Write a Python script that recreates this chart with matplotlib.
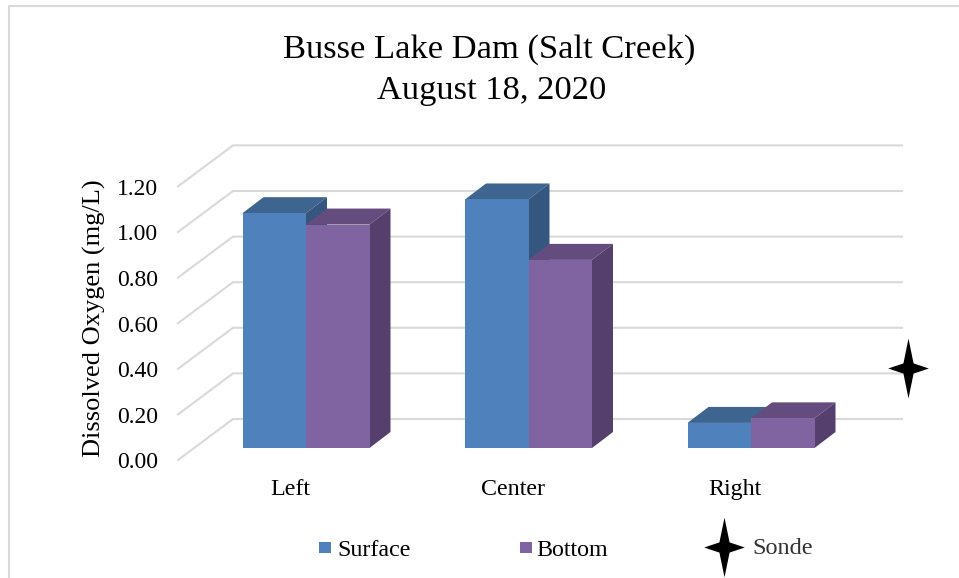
"""
Busse Lake Dam dissolved oxygen, fake 3D bars
"""
import numpy as np
import matplotlib.pyplot as plt
from matplotlib.path import Path

plt.rcParams['font.family'] = ['Liberation Serif', 'DejaVu Serif']

# data
sites = ['Left', 'Center', 'Right']
surface = [1.03, 1.09, 0.11]
bottom = [0.98, 0.825, 0.13]
yticks = [0.0, 0.2, 0.4, 0.6, 0.8, 1.0, 1.2]
title_lines = ['Busse Lake Dam (Salt Creek)', 'August 18, 2020']
ylabel = 'Dissolved Oxygen (mg/L)'
sonde_y = 0.35

# colours
blue = ['#4f81bd', '#3e6490', '#34567f']
purple = ['#8064a2', '#644d7e', '#553f6d']
grid_col = '#d9d9d9'

W, H = 959, 578
fig = plt.figure(figsize=(W/100, H/100), dpi=100)
ax = fig.add_axes([0, 0, 1, 1])

# one x unit is one category step, one y unit is 1 mg/L, front plane of the bars
px_x = 222.5
px_y = 228.0
x0 = 306.0
y0 = 448.0
ax.set_xlim((0 - x0)/px_x, (W - x0)/px_x)
ax.set_ylim((y0 - H)/px_y, (y0 - 0)/px_y)
ax.axis('off')

def dx(p):
    return p/px_x
def dy(p):
    return p/px_y

bw = 63.5/px_x
ddx = dx(21)
ddy = dy(16)

# chart border, open on the right
ax.plot([dx(9 - x0), dx(9 - x0), dx(W - x0)],
        [dy(y0 - H), dy(y0 - 6), dy(y0 - 6)],
        color=grid_col, lw=1.5, zorder=1)

# gridlines with the side wall
wall_x = dx(233 - x0)
wall_dx = dx(55)
for t in yticks:
    back = t + dy(29)
    front = t - dy(12)
    ax.plot([wall_x - wall_dx, wall_x, dx(902 - x0)], [front, back, back],
            color=grid_col, lw=1.5, zorder=1, solid_joinstyle='miter')
    ax.text(dx(158 - x0), front - dy(3), '%.2f' % t, ha='right', va='center', fontsize=17, color='k')

def bar3d(xl, h, cols, z):
    xr = xl + bw
    ax.fill([xl, xr, xr, xl], [0, 0, h, h], color=cols[0], lw=0, zorder=z+0.2)
    ax.fill([xl, xr, xr + ddx, xl + ddx], [h, h, h + ddy, h + ddy], color=cols[1], lw=0, zorder=z)
    ax.fill([xr, xr + ddx, xr + ddx, xr], [0, ddy, h + ddy, h], color=cols[2], lw=0, zorder=z+0.1)

for i in range(len(sites)):
    bar3d(i - bw, surface[i], blue, 2)
    bar3d(i, bottom[i], purple, 3)
    ax.text(i - dx(16), dy(y0 - 495), sites[i], ha='center', va='baseline', fontsize=17.3, color='k')

# title and axis label
ax.text(dx(489 - x0), dy(y0 - 50), title_lines[0], ha='center', va='center', fontsize=24.8, color='k')
ax.text(dx(492 - x0), dy(y0 - 91), title_lines[1], ha='center', va='center', fontsize=24.8, color='k')
ax.text(dx(94 - x0), dy(y0 - 318), ylabel, rotation=90, ha='center', va='center', fontsize=19, color='k')

# four point star
star_x = np.array([0, 0.17, 0.68, 0.17, 0, -0.17, -0.68, -0.17, 0])
star_y = np.array([1, 0.17, 0, -0.17, -1, -0.17, 0, 0.17, 1])
star = Path(np.column_stack([star_x, star_y]), closed=True)
ax.plot([dx(908 - x0)], [sonde_y], marker=star, ms=43, color='k', mew=0, ls='none', zorder=6)
ax.plot([dx(724 - x0)], [dy(y0 - 547)], marker=star, ms=43, color='k', mew=0, ls='none', zorder=6)

# legend
for xp, xt, col, lab in [(319, 337, blue[0], 'Surface'), (520, 536, purple[0], 'Bottom')]:
    ax.fill([dx(xp - x0), dx(xp + 12 - x0), dx(xp + 12 - x0), dx(xp - x0)],
            [dy(y0 - 553), dy(y0 - 553), dy(y0 - 542), dy(y0 - 542)], color=col, lw=0)
    ax.text(dx(xt - x0), dy(y0 - 551), lab, ha='left', va='center', fontsize=17.3, color='k')
ax.text(dx(752 - x0), dy(y0 - 548), 'Sonde', ha='left', va='center', fontsize=17.5, color='#333333')

fig.savefig('out.png', dpi=100)
